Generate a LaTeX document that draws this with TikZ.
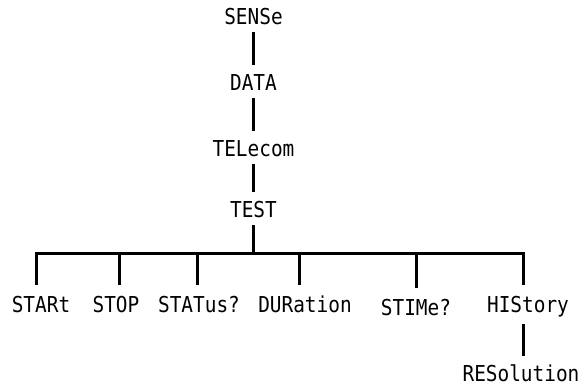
\documentclass[tikz,border=0pt]{standalone}
\usepackage{fontspec}
\usepackage{graphicx}
\setmonofont{DejaVu Sans Mono}
% command keywords are set slightly condensed-tall
\newcommand\kw[1]{\scalebox{1}[1.13]{#1}}
\begin{document}
\begin{tikzpicture}[x=1pt,y=-1pt,
  cmd/.style={anchor=base,font=\ttfamily\fontsize{19.4}{22}\selectfont,
    text height=15pt,text depth=5pt,inner xsep=0pt,inner ysep=2pt,outer sep=0pt},
  link/.style={line width=3pt,line cap=butt},
  down/.style={link,shorten >=9pt},
  drop/.style={link,shorten >=11pt}]
\useasboundingbox (0,0) rectangle (582,387);

% command chain
\node[cmd] (sense) at (253.5,25)  {\kw{SENSe}};
\node[cmd] (data)  at (253.5,91)  {\kw{DATA}};
\node[cmd] (tel)   at (253.5,157) {\kw{TELecom}};
\node[cmd] (test)  at (253.5,218) {\kw{TEST}};

% subcommands
\node[cmd] (start)  at (41,313)  {\kw{STARt}};
\node[cmd] (stop)   at (116,313) {\kw{STOP}};
\node[cmd] (status) at (199,313) {\kw{STATus?}};
\node[cmd] (dur)    at (305,313) {\kw{DURation}};
\node[cmd] (stime)  at (416,316) {\kw{STIMe?}};
\node[cmd] (hist)   at (528,313) {\kw{HIStory}};
\node[cmd] (res)    at (521,382) {\kw{RESolution}};

% junctions on the branch bar
\coordinate (jstart)  at (36,254);
\coordinate (jstop)   at (119,254);
\coordinate (jstatus) at (197,254);
\coordinate (jdur)    at (299,254);
\coordinate (jstime)  at (416,254);
\coordinate (jhist)   at (523,254);

\draw[down] (sense.south) -- (data.north);
\draw[down] (data.south) -- (tel.north);
\draw[down] (tel.south) -- (test.north);
\draw[link] (test.south) -- (test.south |- jstart);

\draw[link,line cap=rect] (jstart) -- (jhist);
\foreach \j/\n in {jstart/start,jstop/stop,jstatus/status,jdur/dur,jstime/stime,jhist/hist}
  \draw[drop] (\j) -- (\j |- \n.north);

\draw[link,shorten <=4pt,shorten >=9pt] (hist.south -| jhist) -- (res.north -| jhist);
\end{tikzpicture}
\end{document}
